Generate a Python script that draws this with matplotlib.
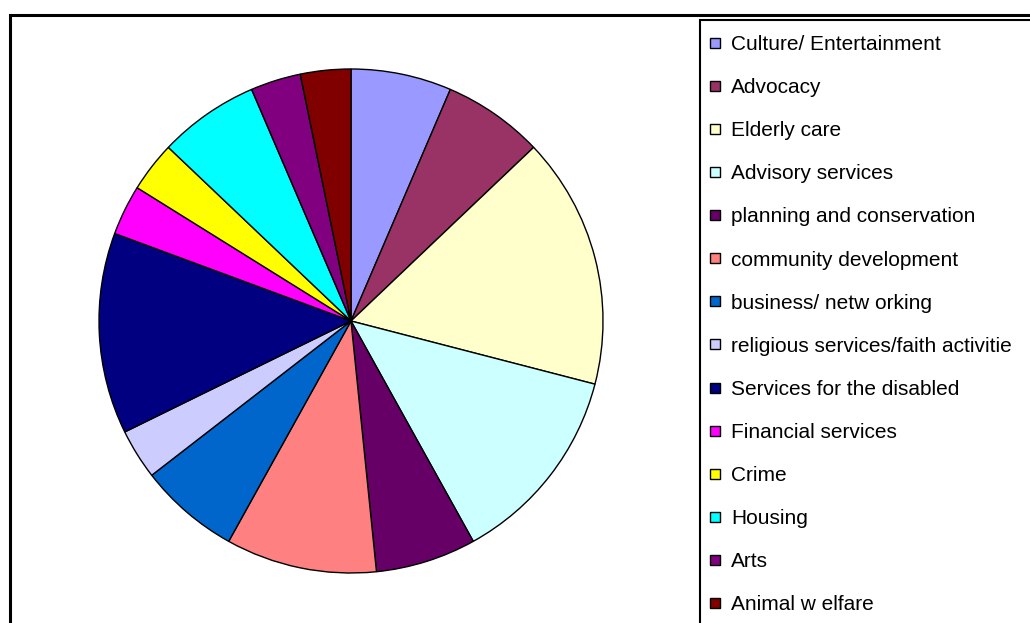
import matplotlib.pyplot as plt
from matplotlib.lines import Line2D
from matplotlib.patches import Rectangle

plt.rcParams["font.family"] = ["Liberation Sans", "DejaVu Sans"]

# ── data ─────────────────────────────────────────────────
categories = [
    "Culture/ Entertainment", "Advocacy", "Elderly care", "Advisory services",
    "planning and conservation", "community development", "business/ netw orking",
    "religious services/faith activitie", "Services for the disabled",
    "Financial services", "Crime", "Housing", "Arts", "Animal w elfare",
]
counts = [2, 2, 5, 4, 2, 3, 2, 1, 4, 1, 1, 2, 1, 1]
colors = [
    "#9999FF", "#993366", "#FFFFCC", "#CCFFFF", "#660066", "#FF8080", "#0066CC",
    "#CCCCFF", "#000080", "#FF00FF", "#FFFF00", "#00FFFF", "#800080", "#800000",
]

W, H = 1030, 623
fig = plt.figure(figsize=(W / 100, H / 100), dpi=100)

# pie area: centre (351, 321), radius 252 px
cx, cy, r = 351, 321, 252
ax = fig.add_axes([(cx - r) / W, (H - cy - r) / H, 2 * r / W, 2 * r / H])
ax.pie(counts, colors=colors, startangle=90, counterclock=False,
       wedgeprops=dict(edgecolor="black", linewidth=1))
ax.set_xlim(-1, 1)
ax.set_ylim(-1, 1)
ax.set_aspect("auto")
ax.axis("off")

# outer chart frame and legend frame (both run off the image edge)
fig.patches.append(Rectangle((9.5 / W, -0.1), 1.2, (H - 14.5) / H + 0.1,
                             transform=fig.transFigure, fill=False,
                             edgecolor="black", linewidth=2.2))
fig.patches.append(Rectangle((700 / W, -0.1), 1.2, (H - 20) / H + 0.1,
                             transform=fig.transFigure, fill=False,
                             edgecolor="black", linewidth=1.5))

handles = [Line2D([], [], linestyle="none", marker="s", markersize=7.8,
                  markerfacecolor=c, markeredgecolor="black", markeredgewidth=1)
           for c in colors]
fig.legend(handles, categories, loc="upper left",
           bbox_to_anchor=(707 / W, (H - 35) / H), frameon=False,
           fontsize=15, handlelength=0.75, handletextpad=0.4,
           labelspacing=1.157, borderpad=0, borderaxespad=0)

plt.savefig("out.png", dpi=100)
